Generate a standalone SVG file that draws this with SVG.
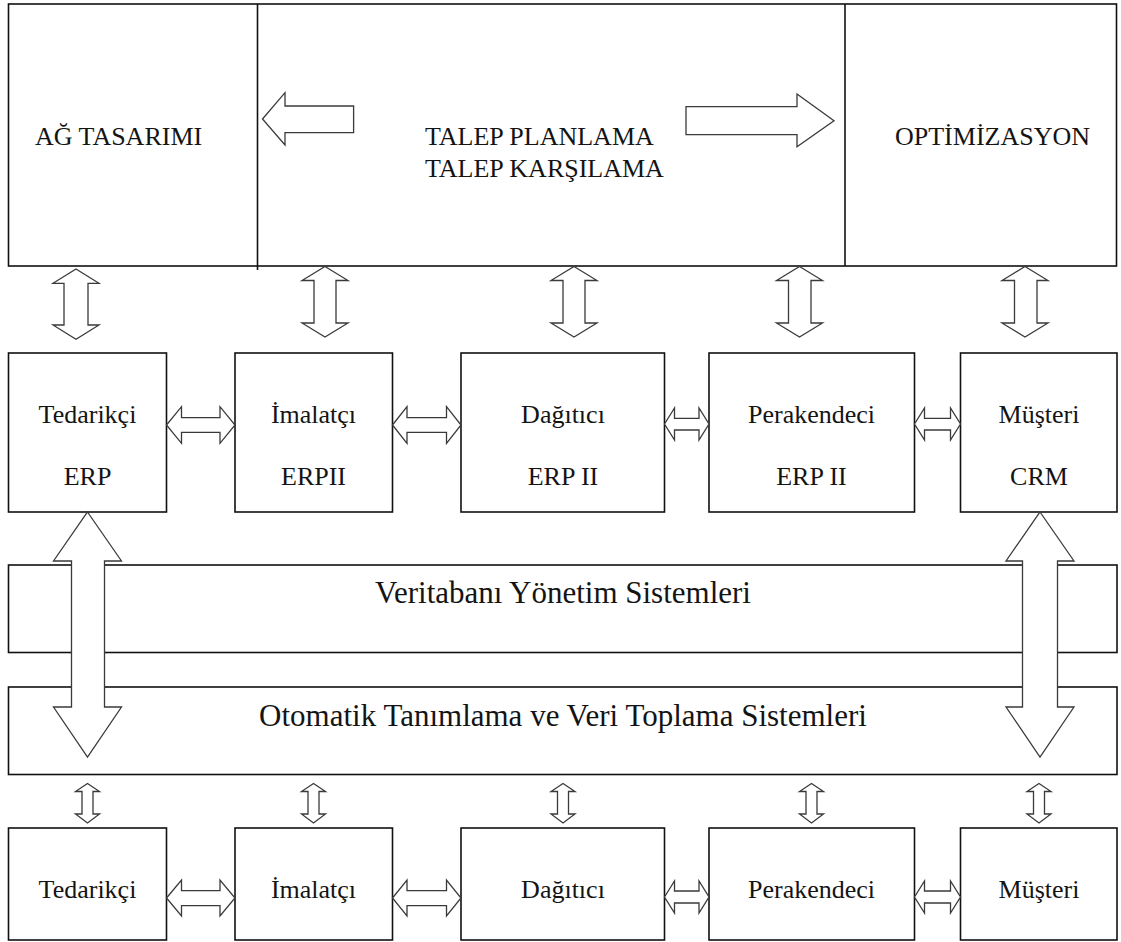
<svg xmlns="http://www.w3.org/2000/svg" width="1121" height="942" viewBox="0 0 1121 942" font-family="Liberation Serif" font-size="26">
<style>
.box{fill:#fff;stroke:#111;stroke-width:1.6}
.ln{stroke:#111;stroke-width:1.6;fill:none}
.ar{fill:#fff;stroke:#3a3a3a;stroke-width:1.3;stroke-linejoin:miter}
.c{text-anchor:middle}
</style>
<rect width="1121" height="942" fill="#fff"/>

<g id="top-panel">
<rect class="box" x="8.5" y="4" width="1108" height="262"/>
<line class="ln" x1="257.5" y1="4" x2="257.5" y2="270"/>
<line class="ln" x1="845" y1="4" x2="845" y2="266"/>
</g>
<g id="ag-tasarimi" fill="#141414"><text x="35" y="145" font-family="Liberation Serif">AĞ TASARIMI</text></g>
<g id="talep" fill="#141414"><text x="425" y="145" font-family="Liberation Serif">TALEP PLANLAMA</text><text x="425" y="177" font-family="Liberation Serif">TALEP KARŞILAMA</text></g>
<g id="optimizasyon" fill="#141414"><text x="895" y="145" font-family="Liberation Serif">OPTİMİZASYON</text></g>

<g id="bands" fill="#141414">
<g id="veritabani"><rect class="box" x="8.5" y="565" width="1108.5" height="87.5"/><text class="c" x="563" y="603" font-family="Liberation Serif" font-size="31">Veritabanı Yönetim Sistemleri</text></g>
<g id="otomatik"><rect class="box" x="8.5" y="687" width="1108.5" height="87.5"/><text class="c" x="563" y="726" font-family="Liberation Serif" font-size="31">Otomatik Tanımlama ve Veri Toplama Sistemleri</text></g>
</g>

<g id="mid-tedarikci" fill="#141414"><rect class="box" x="8.5" y="353" width="158" height="159"/><text class="c" x="87.5" y="423" font-family="Liberation Serif">Tedarikçi</text><text class="c" x="87.5" y="485" font-family="Liberation Serif">ERP</text></g>
<g id="mid-imalatci" fill="#141414"><rect class="box" x="235" y="353" width="157.5" height="159"/><text class="c" x="313.5" y="423" font-family="Liberation Serif">İmalatçı</text><text class="c" x="313.5" y="485" font-family="Liberation Serif">ERPII</text></g>
<g id="mid-dagitici" fill="#141414"><rect class="box" x="461" y="353" width="203.5" height="159"/><text class="c" x="563" y="423" font-family="Liberation Serif">Dağıtıcı</text><text class="c" x="563" y="485" font-family="Liberation Serif">ERP II</text></g>
<g id="mid-perakendeci" fill="#141414"><rect class="box" x="709" y="353" width="205.5" height="159"/><text class="c" x="811.5" y="423" font-family="Liberation Serif">Perakendeci</text><text class="c" x="811.5" y="485" font-family="Liberation Serif">ERP II</text></g>
<g id="mid-musteri" fill="#141414"><rect class="box" x="960.5" y="353" width="156.5" height="159"/><text class="c" x="1039" y="423" font-family="Liberation Serif">Müşteri</text><text class="c" x="1039" y="485" font-family="Liberation Serif">CRM</text></g>

<g id="bot-tedarikci" fill="#141414"><rect class="box" x="8.5" y="828" width="158" height="112"/><text class="c" x="87.5" y="898" font-family="Liberation Serif">Tedarikçi</text></g>
<g id="bot-imalatci" fill="#141414"><rect class="box" x="235" y="828" width="157.5" height="112"/><text class="c" x="313.5" y="898" font-family="Liberation Serif">İmalatçı</text></g>
<g id="bot-dagitici" fill="#141414"><rect class="box" x="461" y="828" width="203.5" height="112"/><text class="c" x="563" y="898" font-family="Liberation Serif">Dağıtıcı</text></g>
<g id="bot-perakendeci" fill="#141414"><rect class="box" x="709" y="828" width="205.5" height="112"/><text class="c" x="811.5" y="898" font-family="Liberation Serif">Perakendeci</text></g>
<g id="bot-musteri" fill="#141414"><rect class="box" x="960.5" y="828" width="156.5" height="112"/><text class="c" x="1039" y="898" font-family="Liberation Serif">Müşteri</text></g>

<g id="connectors">
<polygon class="ar" points="262.5,119 285,92.7 285,106 353.6,106 353.6,132.7 285,132.7 285,145"/>
<polygon class="ar" points="834,120.7 797,94 797,106.7 686,106.7 686,134.7 797,134.7 797,146.7"/>
<polygon class="ar" points="76,269 99,283.3 88,283.3 88,325 99,325 76,339.3 53,325 64,325 64,283.3 53,283.3"/>
<polygon class="ar" points="325,266.5 348,280.5 336,280.5 336,323 348,323 325,337 302,323 314,323 314,280.5 302,280.5"/>
<polygon class="ar" points="574,266.5 597,280.5 585,280.5 585,323 597,323 574,337 551,323 563,323 563,280.5 551,280.5"/>
<polygon class="ar" points="799.5,266.5 822.5,280.5 811,280.5 811,323 822.5,323 799.5,337 776.5,323 788.5,323 788.5,280.5 776.5,280.5"/>
<polygon class="ar" points="1025,266.5 1048,280.5 1037,280.5 1037,323 1048,323 1025,337 1002,323 1014.5,323 1014.5,280.5 1002,280.5"/>
<polygon class="ar" points="166.5,425 181.5,406.7 181.5,417.7 220,417.7 220,406.7 235,425 220,443.3 220,432.3 181.5,432.3 181.5,443.3"/>
<polygon class="ar" points="392.5,425 407,406.7 407,417.7 446.5,417.7 446.5,406.7 461,425 446.5,443.3 446.5,432.3 407,432.3 407,443.3"/>
<polygon class="ar" points="664.5,424 674.5,408 674.5,418.3 699,418.3 699,408 709,424 699,440 699,430 674.5,430 674.5,440"/>
<polygon class="ar" points="914.5,424 924.5,408 924.5,418.3 950.5,418.3 950.5,408 960.5,424 950.5,440 950.5,430 924.5,430 924.5,440"/>
<polygon class="ar" points="87.5,512 121.5,561 104.5,561 104.5,707 121.5,707 87.5,757 53.5,707 71.5,707 71.5,561 53.5,561"/>
<polygon class="ar" points="1040,512 1074,561 1057.5,561 1057.5,707 1074,707 1040,757 1006,707 1022.5,707 1022.5,561 1006,561"/>
<polygon class="ar" points="87.5,783.5 99.5,791.5 93,791.5 93,814 99.5,814 87.5,823 75.5,814 82,814 82,791.5 75.5,791.5"/>
<polygon class="ar" points="313.5,783.5 325.5,791.5 319,791.5 319,814 325.5,814 313.5,823 301.5,814 308,814 308,791.5 301.5,791.5"/>
<polygon class="ar" points="563,783.5 575,791.5 568.5,791.5 568.5,814 575,814 563,823 551,814 557.5,814 557.5,791.5 551,791.5"/>
<polygon class="ar" points="811.5,783.5 823.5,791.5 817,791.5 817,814 823.5,814 811.5,823 799.5,814 806,814 806,791.5 799.5,791.5"/>
<polygon class="ar" points="1039,783.5 1051,791.5 1044.5,791.5 1044.5,814 1051,814 1039,823 1027,814 1033.5,814 1033.5,791.5 1027,791.5"/>
<polygon class="ar" points="166.5,898 181.5,880 181.5,890.7 220,890.7 220,880 235,898 220,916 220,905.7 181.5,905.7 181.5,916"/>
<polygon class="ar" points="392.5,898 407,880 407,890.7 446.5,890.7 446.5,880 461,898 446.5,916 446.5,905.7 407,905.7 407,916"/>
<polygon class="ar" points="664.5,897 674.5,881 674.5,891 699,891 699,881 709,897 699,913 699,903 674.5,903 674.5,913"/>
<polygon class="ar" points="914.5,897 924.5,881 924.5,891 950.5,891 950.5,881 960.5,897 950.5,913 950.5,903 924.5,903 924.5,913"/>
</g>
</svg>
